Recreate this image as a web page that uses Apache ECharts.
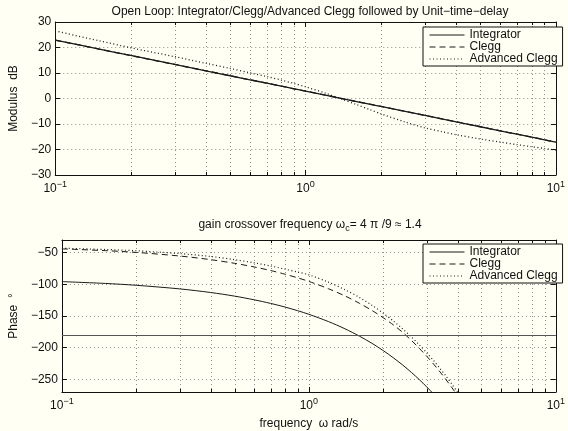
<!DOCTYPE html>
<html>
<head>
<meta charset="utf-8">
<script src="https://cdn.jsdelivr.net/npm/echarts@6/dist/echarts.min.js"></script>
<style>
  html, body { margin: 0; padding: 0; background: #fffff4; }
  #main { width: 568px; height: 431px; }
</style>
</head>
<body>
<div id="main"></div>
<script>
  // frequency points (rad/s)
  var freqMag = [0.1, 0.15, 0.2, 0.3, 0.4, 0.5, 0.6, 0.7, 0.8, 0.9, 1, 1.2, 1.4, 1.6, 1.8, 2, 2.5, 3, 3.5, 4, 5, 6, 7, 8, 9, 10];
  var freqPhase = [0.1, 0.15, 0.2, 0.3, 0.4, 0.5, 0.6, 0.7, 0.8, 0.9, 1.0, 1.2, 1.4, 1.6, 1.8, 2.0, 2.2, 2.4, 2.6, 2.8, 3.0, 3.2, 3.4, 3.6, 3.8, 4.0, 4.2, 4.4];

  // modulus dB
  var integratorMag = [22.9, 19.38, 16.88, 13.36, 10.86, 8.92, 7.34, 6.0, 4.84, 3.81, 2.9, 1.31, -0.03, -1.19, -2.21, -3.12, -5.06, -6.64, -7.98, -9.14, -11.08, -12.67, -14.01, -15.17, -16.19, -17.1];
  var cleggMag = [22.9, 19.38, 16.88, 13.36, 10.86, 8.92, 7.34, 6.0, 4.84, 3.81, 2.9, 1.31, -0.03, -1.19, -2.21, -3.12, -5.06, -6.64, -7.98, -9.14, -11.08, -12.67, -14.01, -15.17, -16.19, -17.1];
  var advCleggMag = [26.5, 22.6, 19.9, 16.4, 13.8, 11.8, 10.1, 8.6, 7.2, 5.9, 4.6, 2.1, -0.3, -2.4, -4.3, -6.0, -9.2, -11.5, -13.0, -14.2, -15.9, -17.1, -18.1, -18.9, -19.6, -20.2];

  // phase deg
  var integratorPhase = [-95.7, -98.6, -101.5, -107.2, -112.9, -118.6, -124.4, -130.1, -135.8, -141.6, -147.3, -158.8, -170.2, -181.7, -193.1, -204.6, -216.1, -227.5, -239.0, -250.4, -261.9, -273.3, -284.8, -296.3, -307.7, -319.2, -330.6, -342.1];
  var cleggPhase = [-44.0, -46.8, -49.6, -55.3, -61.0, -66.8, -72.5, -78.2, -84.0, -89.7, -95.4, -106.9, -118.3, -129.8, -141.2, -152.7, -164.2, -176.0, -188.5, -201.0, -213.5, -226.0, -238.5, -251.0, -263.5, -276.0, -288.5, -301.0];
  var advCleggPhase = [-43.0, -45.0, -47.0, -51.5, -56.0, -61.0, -66.0, -71.0, -76.0, -80.5, -85.0, -96.5, -108.5, -120.5, -133.0, -145.5, -158.0, -170.5, -183.0, -195.5, -208.0, -220.5, -233.0, -245.5, -258.0, -270.5, -283.0, -295.5];

  var phaseRef = -180;
  var minorFreqs = [0.2, 0.3, 0.4, 0.5, 0.6, 0.7, 0.8, 0.9, 2, 3, 4, 5, 6, 7, 8, 9];
  var seriesNames = ['Integrator', 'Clegg', 'Advanced Clegg'];

  var magRange = [-30, 30];
  var phaseRange = [-270, -30];

  var FONT = 'Liberation Sans';
  var INK = '#111';
  var BG = '#fffff4';
  var GRIDC = '#8c8c8c';

  function pairs(xs, ys) {
    return xs.map(function (x, i) { return [x, ys[i]]; });
  }

  // 10^n labels
  function powLabel(v) {
    var e = Math.round(Math.log(v) / Math.LN10);
    return '{b|10}{e|' + String(e).replace('-', '\u2212') + '}';
  }
  function minusLabel(v) {
    return String(v).replace('-', '\u2212');
  }

  var powRich = {
    b: { fontFamily: FONT, fontSize: 12, color: INK },
    e: { fontFamily: FONT, fontSize: 9, color: INK, padding: [0, 0, 8, 0] }
  };

  function xAxes(gridIndex) {
    return [{
      type: 'log', logBase: 10, gridIndex: gridIndex, min: 0.1, max: 10,
      axisLine: { onZero: false, lineStyle: { color: INK, width: 1 } },
      axisTick: { inside: true, length: 5, lineStyle: { color: INK } },
      axisLabel: { formatter: powLabel, rich: powRich, margin: 5, showMaxLabel: true },
      splitLine: { show: true, lineStyle: { color: GRIDC, type: [1, 3] } }
    }, {
      type: 'log', logBase: 10, gridIndex: gridIndex, min: 0.1, max: 10, position: 'top',
      axisLine: { onZero: false, lineStyle: { color: INK, width: 1 } },
      axisTick: { inside: true, length: 5, lineStyle: { color: INK } },
      axisLabel: { show: false },
      splitLine: { show: false }
    }];
  }

  function yAxes(gridIndex, range, extra) {
    var left = {
      type: 'value', gridIndex: gridIndex, min: range[0], max: range[1],
      axisLine: { show: true, onZero: false, lineStyle: { color: INK, width: 1 } },
      axisTick: { show: true, inside: true, length: 5, lineStyle: { color: INK } },
      axisLabel: { fontFamily: FONT, fontSize: 12, color: INK, margin: 4, formatter: minusLabel },
      splitLine: { show: true, lineStyle: { color: GRIDC, type: [1, 3] } },
      nameLocation: 'middle', nameRotate: 90,
      nameTextStyle: { fontFamily: FONT, fontSize: 12, color: INK }
    };
    var right = {
      type: 'value', gridIndex: gridIndex, min: range[0], max: range[1], position: 'right',
      axisLine: { show: true, onZero: false, lineStyle: { color: INK, width: 1 } },
      axisTick: { show: true, inside: true, length: 5, lineStyle: { color: INK } },
      axisLabel: { show: false },
      splitLine: { show: false }
    };
    for (var k in extra) { left[k] = extra[k]; right[k] = extra[k]; }
    return [left, right];
  }

  // dotted minor grid + small ticks for the log axis
  function minorGrid(gridIndex, range) {
    return {
      type: 'custom', xAxisIndex: gridIndex * 2, yAxisIndex: gridIndex * 2, silent: true, z: 1,
      data: minorFreqs.map(function (f) { return [f, range[0]]; }),
      renderItem: function (params, api) {
        var top = api.coord([api.value(0), range[1]]);
        var bot = api.coord([api.value(0), range[0]]);
        var x = Math.round(top[0]) + 0.5;
        return {
          type: 'group',
          children: [
            { type: 'line', shape: { x1: x, y1: top[1], x2: x, y2: bot[1] }, style: { stroke: GRIDC, lineWidth: 1, lineDash: [1, 3] } },
            { type: 'line', shape: { x1: x, y1: top[1], x2: x, y2: top[1] + 3 }, style: { stroke: INK, lineWidth: 1 } },
            { type: 'line', shape: { x1: x, y1: bot[1], x2: x, y2: bot[1] - 3 }, style: { stroke: INK, lineWidth: 1 } }
          ]
        };
      }
    };
  }

  function curve(name, gridIndex, data, lineType, width) {
    return {
      name: name, type: 'line', xAxisIndex: gridIndex * 2, yAxisIndex: gridIndex * 2,
      data: data, symbol: 'none', smooth: 0.3, z: 3,
      itemStyle: { color: '#1a1a1a' },
      lineStyle: { color: '#1a1a1a', width: width, type: lineType }
    };
  }

  function legendAt(top) {
    return {
      data: seriesNames, orient: 'vertical', left: 423, top: top, width: 138,
      itemWidth: 35, itemHeight: 13, itemGap: 0,
      padding: [2, 5, 1, 6],
      borderColor: INK, borderWidth: 1, backgroundColor: BG,
      itemStyle: { opacity: 0 },
      lineStyle: { width: 1, color: '#1a1a1a' },
      textStyle: { fontFamily: FONT, fontSize: 12, color: INK },
      selectedMode: false
    };
  }

  var phaseSeries = curve('Integrator', 1, pairs(freqPhase, integratorPhase), 'solid', 1);
  phaseSeries.markLine = {
    silent: true, symbol: 'none', label: { show: false },
    lineStyle: { color: '#555', width: 1, type: 'solid' },
    data: [{ yAxis: phaseRef }]
  };

  var chart = echarts.init(document.getElementById('main'));
  chart.setOption({
    backgroundColor: BG,
    animation: false,
    title: [{
      text: 'Open Loop: Integrator/Clegg/Advanced Clegg followed by Unit\u2212time\u2212delay',
      left: 305, top: 1, textAlign: 'center',
      textStyle: { fontFamily: FONT, fontSize: 12, fontWeight: 'normal', color: INK }
    }, {
      text: '{a|gain crossover frequency \u03c9}{s|c}{a|= 4 \u03c0 /9 \u2248 1.4}',
      left: 305, top: 211, textAlign: 'center',
      textStyle: {
        fontWeight: 'normal',
        rich: {
          a: { fontFamily: FONT, fontSize: 12, fontWeight: 'normal', color: INK },
          s: { fontFamily: FONT, fontSize: 9, fontWeight: 'normal', color: INK, padding: [8, 0, 0, 0] }
        }
      }
    }],
    grid: [
      { left: 49, top: 22, width: 511, height: 153 },
      { left: 49, top: 240, width: 511, height: 153 }
    ],
    legend: [legendAt(27), legendAt(244)],
    xAxis: xAxes(0).concat(xAxes(1)).map(function (ax, i) {
      if (i === 2) {
        ax.name = 'frequency  \u03c9 rad/s';
        ax.nameLocation = 'middle';
        ax.nameGap = 26;
        ax.nameTextStyle = { fontFamily: FONT, fontSize: 12, color: INK };
      }
      return ax;
    }),
    yAxis: yAxes(0, magRange, { interval: 10 }).concat(yAxes(1, phaseRange, { splitNumber: 5 })).map(function (ax, i) {
      if (i === 0) { ax.name = 'Modulus  dB'; ax.nameGap = 30; }
      if (i === 2) {
        ax.name = 'Phase  \u00b0'; ax.nameGap = 33;
        ax.axisLabel.showMinLabel = false; ax.axisLabel.showMaxLabel = false;
      }
      return ax;
    }),
    series: [
      minorGrid(0, magRange),
      minorGrid(1, phaseRange),
      curve('Integrator', 0, pairs(freqMag, integratorMag), 'solid', 1.3),
      curve('Clegg', 0, pairs(freqMag, cleggMag), [6, 4], 1.3),
      curve('Advanced Clegg', 0, pairs(freqMag, advCleggMag), [1, 2.5], 1.3),
      phaseSeries,
      curve('Clegg', 1, pairs(freqPhase, cleggPhase), [6, 4], 1),
      curve('Advanced Clegg', 1, pairs(freqPhase, advCleggPhase), [1, 2.5], 1.2)
    ]
  });
</script>
</body>
</html>
